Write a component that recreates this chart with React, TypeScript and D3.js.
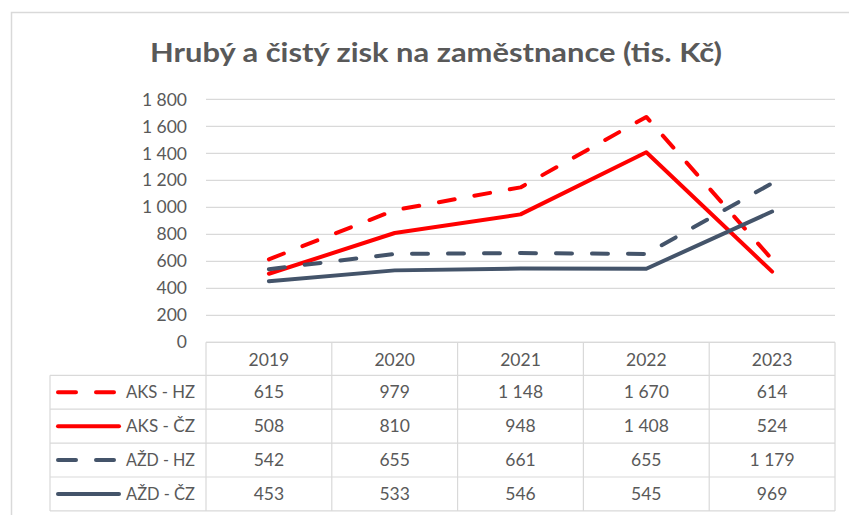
import React from 'react';
import * as d3 from 'd3';

const years = ['2019', '2020', '2021', '2022', '2023'];
const seriesNames = ['AKS - HZ', 'AKS - ČZ', 'AŽD - HZ', 'AŽD - ČZ'];
const aksHz = [615, 979, 1148, 1670, 614];
const aksCz = [508, 810, 948, 1408, 524];
const azdHz = [542, 655, 661, 655, 1179];
const azdCz = [453, 533, 546, 545, 969];
const yTicks = [0, 200, 400, 600, 800, 1000, 1200, 1400, 1600, 1800];
const title = 'Hrubý a čistý zisk na zaměstnance (tis. Kč)';

const seriesValues = [aksHz, aksCz, azdHz, azdCz];
const seriesColors = ['#FF0000', '#FF0000', '#44546A', '#44546A'];
const seriesDashed = [true, false, true, false];

const W = 849;
const H = 515;
const plotLeft = 206;
const plotRight = 835;
const yTop = 99.4;
const yBottom = 342.3;
const legendLeft = 50;
const headerH = 33;
const rowH = 33.9;

const locale = d3.formatLocale({ decimal: ',', thousands: '\u00a0', grouping: [3], currency: ['', ' Kč'] });
const fmt = locale.format(',d');

const TEXT = '#595959';
const GRID = '#D9D9D9';
const FONT = 'Lato, "Open Sans", sans-serif';
const FS = 17.5;

export default function App() {
  const x = d3.scaleBand<string>().domain(years).range([plotLeft, plotRight]).padding(0);
  const y = d3.scaleLinear().domain([0, 1800]).range([yBottom, yTop]);
  const cx = (yr: string) => (x(yr) as number) + x.bandwidth() / 2;

  const line = d3
    .line<number>()
    .x((_, i) => cx(years[i]))
    .y((v) => y(v));

  const tableTop = yBottom;
  const rowsTop = tableTop + headerH;
  const tableBottom = rowsTop + rowH * seriesNames.length;

  return (
    <svg width={W} height={H} style={{ position: 'absolute', left: 0, top: 0, background: '#fff' }} fontFamily={FONT}>
      <rect x={0} y={0} width={W} height={H} fill="#fff" />
      {/* chart frame */}
      <rect x={11.5} y={12.5} width={W + 20} height={H + 20} fill="none" stroke={GRID} strokeWidth={1.5} />

      <text
        x={150}
        y={62}
        fontSize={27.5}
        fontWeight={700}
        fill={TEXT}
        textLength={572}
        lengthAdjust="spacingAndGlyphs"
      >
        {title}
      </text>

      {/* gridlines */}
      {yTicks.map((t) => (
        <line key={t} x1={plotLeft} x2={plotRight} y1={y(t)} y2={y(t)} stroke={GRID} strokeWidth={1.2} />
      ))}
      {yTicks.map((t) => (
        <text key={'l' + t} x={187} y={y(t)} dy="0.35em" textAnchor="end" fontSize={FS} fill={TEXT}>
          {fmt(t)}
        </text>
      ))}

      {/* series lines */}
      {seriesValues.map((vals, i) => (
        <path
          key={seriesNames[i]}
          d={line(vals) as string}
          fill="none"
          stroke={seriesColors[i]}
          strokeWidth={4}
          strokeLinecap="round"
          strokeLinejoin="round"
          strokeDasharray={seriesDashed[i] ? '16 20' : undefined}
        />
      ))}

      {/* data table */}
      <g stroke={GRID} strokeWidth={1.2}>
        {years.map((yr) => (
          <line key={'v' + yr} x1={x(yr) as number} x2={x(yr) as number} y1={tableTop} y2={tableBottom} />
        ))}
        <line x1={plotRight} x2={plotRight} y1={tableTop} y2={tableBottom} />
        <line x1={legendLeft} x2={legendLeft} y1={rowsTop} y2={tableBottom} />
        <line x1={plotLeft} x2={plotRight} y1={tableTop} y2={tableTop} />
        {seriesNames.map((_, i) => (
          <line key={'h' + i} x1={legendLeft} x2={plotRight} y1={rowsTop + rowH * i} y2={rowsTop + rowH * i} />
        ))}
        <line x1={legendLeft} x2={plotRight} y1={tableBottom} y2={tableBottom} />
      </g>

      {years.map((yr) => (
        <text key={'hd' + yr} x={cx(yr)} y={tableTop + headerH / 2 + 1} dy="0.35em" textAnchor="middle" fontSize={FS} fill={TEXT}>
          {yr}
        </text>
      ))}

      {seriesNames.map((name, i) => {
        const cy = rowsTop + rowH * i + rowH / 2;
        return (
          <g key={'r' + name}>
            <line
              x1={58}
              x2={seriesDashed[i] ? 114 : 119}
              y1={cy}
              y2={cy}
              stroke={seriesColors[i]}
              strokeWidth={4}
              strokeLinecap="round"
              strokeDasharray={seriesDashed[i] ? '18 20' : undefined}
            />
            <text x={126} y={cy} dy="0.35em" fontSize={FS} fill={TEXT} textLength={69} lengthAdjust="spacingAndGlyphs">
              {name}
            </text>
            {seriesValues[i].map((v, j) => (
              <text key={j} x={cx(years[j])} y={cy} dy="0.35em" textAnchor="middle" fontSize={FS} fill={TEXT}>
                {fmt(v)}
              </text>
            ))}
          </g>
        );
      })}
    </svg>
  );
}
